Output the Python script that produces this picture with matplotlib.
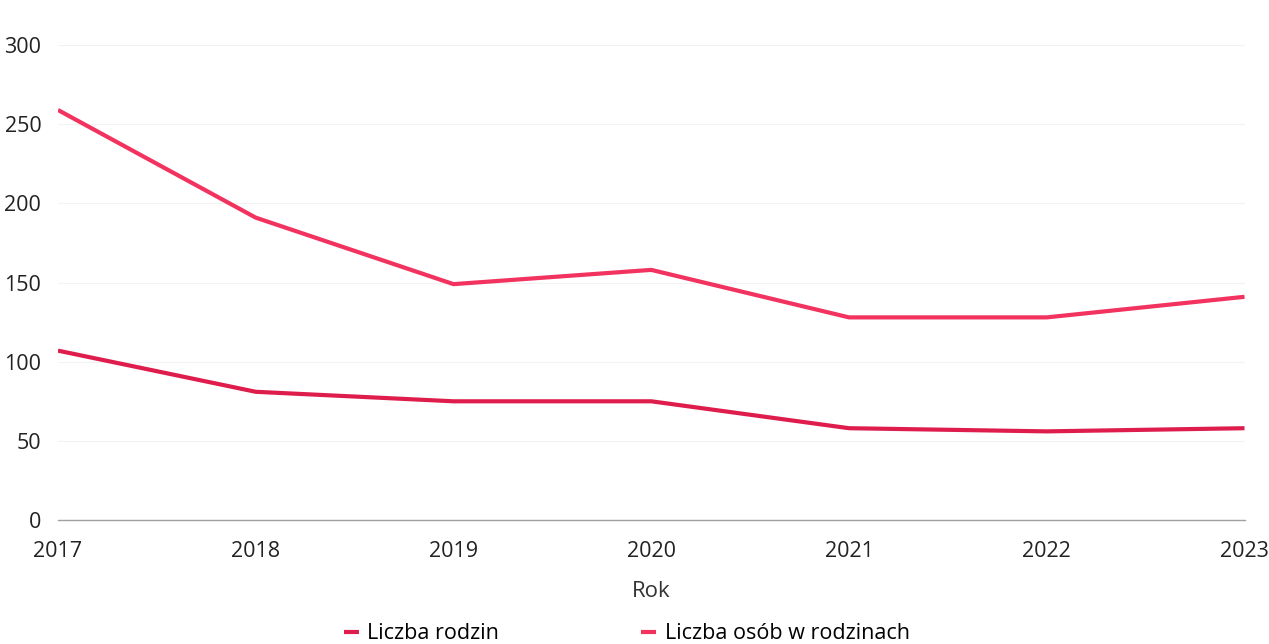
import matplotlib
matplotlib.use("Agg")
import matplotlib.pyplot as plt

# data
years = [2017, 2018, 2019, 2020, 2021, 2022, 2023]
families = [107, 81, 75, 75, 58, 56, 58]
persons = [259, 191, 149, 158, 128, 128, 141]
yticks = [0, 50, 100, 150, 200, 250, 300]

plt.rcParams['font.family'] = ['Open Sans', 'DejaVu Sans']

fig = plt.figure(figsize=(12.69, 6.44), dpi=100)
ax = fig.add_axes([0.0457, 0.1925, 0.935, 0.7375])

ax.plot(years, families, color="#df1d4c", linewidth=3, label="Liczba rodzin",
        solid_capstyle="butt")
ax.plot(years, persons, color="#f2325f", linewidth=3, label="Liczba osób w rodzinach",
        solid_capstyle="butt")

ax.set_xlim(2017, 2023)
ax.set_ylim(0, 300)
ax.set_yticks(yticks)
ax.set_xticks(years)
ax.grid(axis="y", color="#f2f2f2", linewidth=0.8)
for side in ["top", "right", "left"]:
    ax.spines[side].set_visible(False)
ax.spines["bottom"].set_color("#a0a0a0")
ax.spines["bottom"].set_linewidth(1)
ax.tick_params(axis="both", length=0, labelsize=15.5, colors="#222222")
ax.tick_params(axis="x", pad=15)
ax.tick_params(axis="y", pad=12)
ax.set_xlabel("Rok", fontsize=16, color="#333333", labelpad=14)

fig.legend(loc="center", bbox_to_anchor=(0.494, 0.016), ncol=2, frameon=False,
           fontsize=15.5, handlelength=0.7, handletextpad=0.4, columnspacing=6.6,
           borderpad=0)

fig.savefig("out.png", dpi=100)
